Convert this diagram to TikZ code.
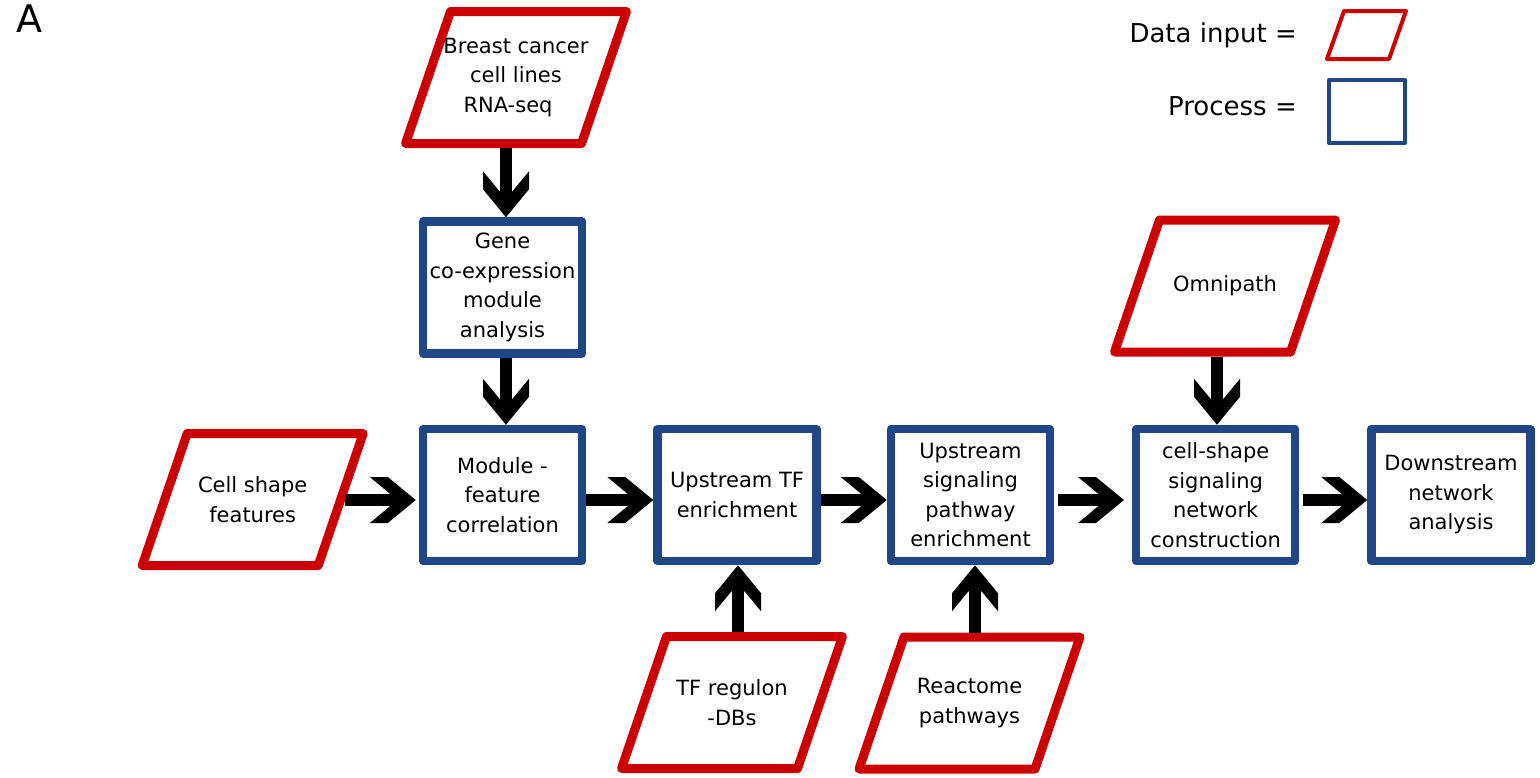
\documentclass[tikz,border=0pt]{standalone}
\usepackage{fontspec}
\setmainfont{DejaVu Sans}
\usetikzlibrary{arrows.meta}

\definecolor{datared}{RGB}{204,0,0}
\definecolor{procblue}{RGB}{31,71,136}

\newcommand{\boxfont}{\fontsize{21pt}{29.5pt}\selectfont}
\newcommand{\legendfont}{\fontsize{26pt}{31pt}\selectfont}

% block arrow head with a notched back
\pgfdeclarearrow{
  name = Chevron,
  setup code = {
    \pgfarrowssettipend{0pt}
    \pgfarrowssetlineend{-25pt}
    \pgfarrowssetbackend{-46pt}
    \pgfarrowssetvisualbackend{-26pt}
    \pgfarrowshullpoint{0pt}{0pt}
    \pgfarrowshullpoint{-46pt}{23pt}
    \pgfarrowshullpoint{-46pt}{-23pt}
  },
  drawing code = {
    \pgfpathmoveto{\pgfqpoint{0pt}{0pt}}
    \pgfpathlineto{\pgfqpoint{-28pt}{23pt}}
    \pgfpathlineto{\pgfqpoint{-46pt}{23pt}}
    \pgfpathlineto{\pgfqpoint{-26pt}{6.5pt}}
    \pgfpathlineto{\pgfqpoint{-26pt}{-6.5pt}}
    \pgfpathlineto{\pgfqpoint{-46pt}{-23pt}}
    \pgfpathlineto{\pgfqpoint{-28pt}{-23pt}}
    \pgfpathclose
    \pgfusepathqfill
  }
}

\tikzset{
  data/.style={rectangle, minimum width=176pt, minimum height=132pt, inner sep=0pt,
    outer sep=4.5pt, align=center, font=\boxfont,
    append after command={\pgfextra{
      \draw[datared, line width=9pt, line join=round]
        ([shift={(-65.5,-66)}]\tikzlastnode.center) -- ([shift={(110.5,-66)}]\tikzlastnode.center)
        -- ([shift={(65.5,66)}]\tikzlastnode.center) -- ([shift={(-110.5,66)}]\tikzlastnode.center) -- cycle;
    }}},
  process/.style={draw=procblue, line width=8.5pt, line join=round, rectangle,
    minimum width=159pt, minimum height=132pt, inner sep=0pt, align=center, font=\boxfont},
  flow/.style={line width=12.5pt, -{Chevron}},
}

\begin{document}
\begin{tikzpicture}[x=1pt, y=-1pt]
	\useasboundingbox (0,0) rectangle (1540,777);
	\node[anchor=base west, inner sep=0pt, font=\fontsize{38pt}{40pt}\selectfont] (panel) at (16.5,32) {A};

	% legend
	\node[anchor=base east, inner sep=0pt, font=\legendfont] (datalbl) at (1297,42) {Data input =};
	\node[anchor=base east, inner sep=0pt, font=\legendfont] (proclbl) at (1297,115) {Process =};
	\draw[datared, line width=4pt, line join=round] (1344,11) -- (1406,11) -- (1389,59) -- (1327,59) -- cycle;
	\node[process, line width=4pt, minimum width=76pt, minimum height=63pt] (prockey) at (1367,111.5) {};

	% data inputs
	\node[data] (breast) at (516,77.5) {Breast cancer\\cell lines\\RNA-seq\hspace*{16pt}};
	\node[data] (cell) at (252.7,499.5) {Cell shape\\features};
	\node[data] (omni) at (1225,286) {Omnipath};
	\node[data] (tfdb) at (732,702.5) {TF regulon\\-DBs};
	\node[data] (reactome) at (969.5,703) {Reactome\\pathways};

	% processes
	\node[process] (gene) at (502.5,287.5) {Gene\\co-expression\\module\\analysis};
	\node[process] (module) at (502.5,495) {Module -\\feature\\correlation};
	\node[process] (tfenr) at (737,495) {Upstream TF\\enrichment};
	\node[process] (sigenr) at (970.5,495) {Upstream\\signaling\\pathway\\enrichment};
	\node[process] (netcons) at (1215.7,495) {cell-shape\\signaling\\network\\construction};
	\node[process] (down) at (1451,495) {Downstream\\network\\analysis};

	% flow
	\draw[flow] ([xshift=-10pt]breast.south) -- ([xshift=3.5pt]gene.north);
	\draw[flow] ([xshift=3.5pt]gene.south) -- ([xshift=3.5pt]module.north);
	\draw[flow] ([yshift=-0.5pt]cell.east) -- ([xshift=-3pt,yshift=-5pt]module.west);
	\draw[flow] ([yshift=-5pt]module.east) -- ([yshift=-5pt]tfenr.west);
	\draw[flow] ([yshift=-5pt]tfenr.east) -- ([yshift=-5pt]sigenr.west);
	\draw[flow, shorten <=4pt, shorten >=8pt] ([yshift=-5pt]sigenr.east) -- ([yshift=-5pt]netcons.west);
	\draw[flow, shorten <=4pt] ([yshift=-5pt]netcons.east) -- ([yshift=-5pt]down.west);
	\draw[flow] ([xshift=-8pt]omni.south) -- ([xshift=1.3pt]netcons.north);
	\draw[flow] ([xshift=6pt]tfdb.north) -- ([xshift=1pt]tfenr.south);
	\draw[flow] ([xshift=5.5pt]reactome.north) -- ([xshift=4.5pt]sigenr.south);
\end{tikzpicture}
\end{document}
